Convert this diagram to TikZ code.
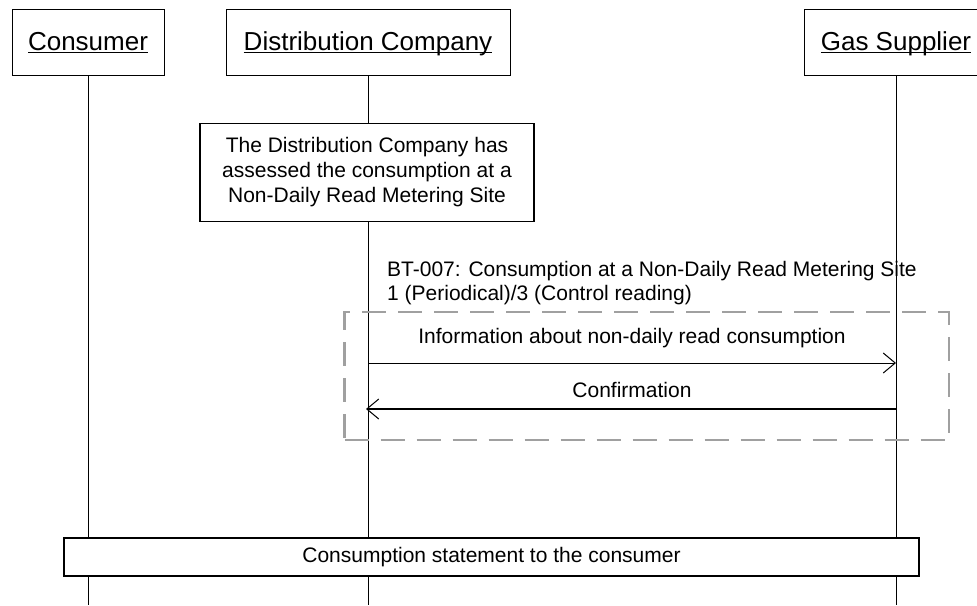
\documentclass[tikz,border=0pt]{standalone}
\usepackage{fontspec}
\setmainfont{Liberation Sans}
\usetikzlibrary{arrows.meta}
\definecolor{fragGray}{RGB}{160,160,160}
\newcommand\myul[1]{\setbox0\hbox{#1}\rlap{\rule[-2.8pt]{\wd0}{1.2pt}}\box0}
\begin{document}
\begin{tikzpicture}[x=1pt,y=-1pt,
  hdr/.style={draw,line width=1pt,fill=white,minimum height=66pt,inner sep=0pt,
    text height=20pt,text depth=5pt,font=\fontsize{26}{30}\selectfont},
  body/.style={font=\fontsize{21}{25}\selectfont,inner sep=0pt},
  life/.style={line width=1pt},
  msg/.style={-{Straight Barb[length=12pt,width=20pt,line width=1pt]}},
  frag/.style={draw=fragGray,line width=2.5pt,dash pattern=on 24pt off 12pt}]
\clip (0,0) rectangle (977,605);
\useasboundingbox (0,0) rectangle (977,605);
% participants
\node[hdr,minimum width=152pt] (cons) at (88,42.7) {\myul{Consumer}};
\node[hdr,minimum width=284pt] (dist) at (368,42.7) {\myul{Distribution Company}};
\node[hdr,minimum width=184pt] (gas) at (896,42.7) {\myul{Gas Supplier}};
% lifelines
\coordinate (consB) at (88,605);
\coordinate (distB) at (368,605);
\coordinate (gasB) at (896,605);
\draw[life] (cons.south) -- (consB);
\draw[life] (dist.south) -- (distB);
\draw[life] (gas.south) -- (gasB);
% note
\node[draw,fill=white,line width=1.3pt,align=center,body,minimum width=334pt,minimum height=98pt] (note) at (367,172.5)
  {The Distribution Company has\\assessed the consumption at a\\Non-Daily Read Metering Site};
% business transaction label
\node[body,anchor=base west] (bt1) at (387,276) {BT-007: Consumption at a Non-Daily Read Metering Site};
\node[body,anchor=base west] (bt2) at (387,300) {1 (Periodical)/3 (Control reading)};
% fragment frame
\node[frag,minimum width=604.5pt,minimum height=128.3pt] (frame) at (646.8,375.9) {};
% messages
\coordinate (m1s) at (368,363);
\coordinate (m1e) at (896,363);
\coordinate (m2s) at (896,409);
\coordinate (m2e) at (366,409);
\draw[msg,line width=1pt] (m1s) -- (m1e);
\draw[msg,line width=1.8pt] (m2s) -- (m2e);
\node[body,anchor=base] (l1) at (632,343) {Information about non-daily read consumption};
\node[body,anchor=base] (l2) at (632,397) {Confirmation};
% statement box
\node[draw,fill=white,line width=2pt,body,minimum width=855pt,minimum height=38pt] (stmt) at (491.5,557)
  {Consumption statement to the consumer};
\end{tikzpicture}
\end{document}
